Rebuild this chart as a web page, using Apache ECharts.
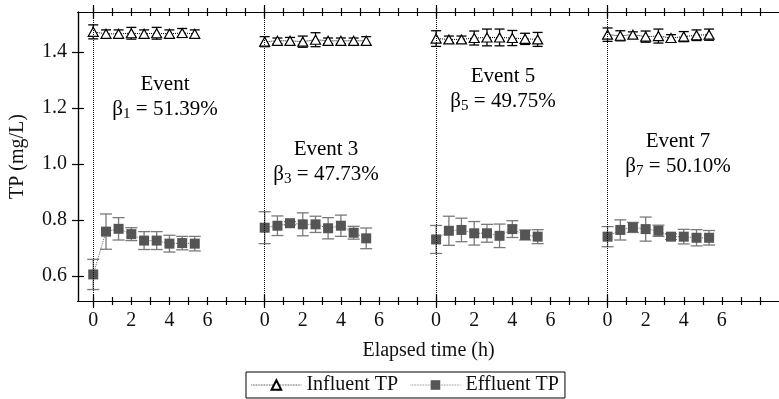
<!DOCTYPE html>
<html>
<head>
<meta charset="utf-8">
<script src="https://cdn.jsdelivr.net/npm/echarts@6/dist/echarts.min.js"></script>
<style>
  html, body { margin: 0; padding: 0; background: #fff; }
  #chart { width: 779px; height: 399px; }
</style>
</head>
<body>
<div id="chart"></div>
<script>
// sampling times within each event (h), every 40 min
var hours = [0, 0.67, 1.33, 2, 2.67, 3.33, 4, 4.67, 5.33];
// where each event starts on the shared axis
var eventStart = [0, 9, 18, 27];
var tickLabels = [0, 2, 4, 6];

// influent TP (mg/L) and error half-widths
var inf1 = [1.472, 1.465, 1.465, 1.467, 1.465, 1.467, 1.465, 1.468, 1.465];
var infErr1 = [0.025, 0.014, 0.014, 0.021, 0.014, 0.021, 0.014, 0.016, 0.014];
var inf3 = [1.437, 1.44, 1.44, 1.437, 1.444, 1.44, 1.44, 1.44, 1.44];
var infErr3 = [0.018, 0.01, 0.012, 0.02, 0.025, 0.01, 0.01, 0.01, 0.015];
var inf5 = [1.448, 1.445, 1.445, 1.45, 1.452, 1.452, 1.45, 1.447, 1.445];
var infErr5 = [0.028, 0.012, 0.012, 0.025, 0.03, 0.03, 0.027, 0.02, 0.025];
var inf7 = [1.462, 1.458, 1.462, 1.455, 1.457, 1.45, 1.455, 1.46, 1.462];
var infErr7 = [0.024, 0.018, 0.01, 0.02, 0.025, 0.012, 0.018, 0.019, 0.02];

// effluent TP (mg/L) and error half-widths
var eff1 = [0.605, 0.758, 0.768, 0.749, 0.726, 0.726, 0.715, 0.717, 0.715];
var effErr1 = [0.054, 0.063, 0.04, 0.023, 0.032, 0.032, 0.03, 0.024, 0.026];
var eff3 = [0.772, 0.779, 0.788, 0.784, 0.784, 0.770, 0.779, 0.754, 0.734];
var effErr3 = [0.057, 0.035, 0.006, 0.041, 0.029, 0.038, 0.038, 0.023, 0.037];
var eff5 = [0.73, 0.761, 0.764, 0.752, 0.752, 0.743, 0.767, 0.746, 0.740];
var effErr5 = [0.05, 0.052, 0.042, 0.042, 0.032, 0.042, 0.03, 0.018, 0.025];
var eff7 = [0.740, 0.764, 0.773, 0.767, 0.761, 0.740, 0.740, 0.736, 0.736];
var effErr7 = [0.036, 0.036, 0.018, 0.043, 0.02, 0.01, 0.026, 0.029, 0.026];

var yTicks = [0.6, 0.8, 1.0, 1.2, 1.4];

var influent = [inf1, inf3, inf5, inf7];
var influentErr = [infErr1, infErr3, infErr5, infErr7];
var effluent = [eff1, eff3, eff5, eff7];
var effluentErr = [effErr1, effErr3, effErr5, effErr7];

var FONT = 'Liberation Serif';
var myChart = echarts.init(document.getElementById('chart'));

var minorTicks = [], labelVals = [];
for (var i = 0; i < 36; i++) minorTicks.push(i);
eventStart.forEach(function (s) {
  tickLabels.forEach(function (t) { labelVals.push(s + t); });
});

function xAx(pos, inside, len, vals, showLabel) {
  return {
    type: 'value', min: -0.8, max: 36, position: pos,
    axisLine: { show: true, onZero: false, lineStyle: { color: '#000', width: 1.2 } },
    splitLine: { show: false },
    axisTick: { show: true, inside: inside, length: len, customValues: vals, lineStyle: { color: '#000', width: 1.2 } },
    axisLabel: showLabel ? {
      show: true, customValues: labelVals, margin: 10,
      fontFamily: FONT, fontSize: 20, color: '#111',
      formatter: function (v) { return String(Math.round(v) % 9); }
    } : { show: false }
  };
}

function yAx(inside) {
  return {
    type: 'value', min: 0.51, max: 1.543, position: 'left',
    axisLine: { show: true, onZero: false, lineStyle: { color: '#000', width: 1.2 } },
    splitLine: { show: false },
    axisTick: { show: true, inside: inside, length: 6, customValues: yTicks, lineStyle: { color: '#000', width: 1.2 } },
    axisLabel: inside ? { show: false } : {
      show: true, customValues: yTicks, margin: 11,
      fontFamily: FONT, fontSize: 20, color: '#111',
      formatter: function (v) { return v.toFixed(1); }
    },
    name: inside ? '' : 'TP (mg/L)',
    nameLocation: 'middle', nameGap: 50,
    nameTextStyle: { fontFamily: FONT, fontSize: 20, color: '#111' }
  };
}

var xAxes = [
  xAx('bottom', false, 4, minorTicks, true),
  xAx('bottom', true, 4, minorTicks, false),
  xAx('bottom', false, 7, eventStart, false),
  xAx('bottom', true, 7, eventStart, false),
  xAx('top', false, 4, minorTicks, false),
  xAx('top', true, 4, minorTicks, false),
  xAx('top', false, 7, eventStart, false),
  xAx('top', true, 7, eventStart, false)
];
xAxes[0].name = 'Elapsed time (h)';
xAxes[0].nameLocation = 'middle';
xAxes[0].nameGap = 40;
xAxes[0].nameTextStyle = { fontFamily: FONT, fontSize: 20, color: '#111' };

function errRender(capW, color) {
  return function (params, api) {
    var x = api.value(0);
    var top = api.coord([x, api.value(2)]);
    var bot = api.coord([x, api.value(1)]);
    var st = { stroke: color, lineWidth: 1.3 };
    return {
      type: 'group',
      children: [
        { type: 'line', shape: { x1: top[0], y1: top[1], x2: bot[0], y2: bot[1] }, style: st },
        { type: 'line', shape: { x1: top[0] - capW, y1: top[1], x2: top[0] + capW, y2: top[1] }, style: st },
        { type: 'line', shape: { x1: bot[0] - capW, y1: bot[1], x2: bot[0] + capW, y2: bot[1] }, style: st }
      ]
    };
  };
}

var series = [];
eventStart.forEach(function (s, k) {
  var inPts = [], inErr = [], effPts = [], effErrPts = [];
  hours.forEach(function (h, j) {
    inPts.push([s + h, influent[k][j]]);
    inErr.push([s + h, influent[k][j] - influentErr[k][j], influent[k][j] + influentErr[k][j]]);
    effPts.push([s + h, effluent[k][j]]);
    effErrPts.push([s + h, effluent[k][j] - effluentErr[k][j], effluent[k][j] + effluentErr[k][j]]);
  });
  series.push({
    type: 'custom', name: 'infErr', z: 1, data: inErr,
    encode: { x: 0, y: [1, 2] }, renderItem: errRender(5, '#000')
  });
  series.push({
    type: 'custom', name: 'effErr', z: 1, data: effErrPts,
    encode: { x: 0, y: [1, 2] }, renderItem: errRender(6, '#7a7a7a')
  });
  series.push({
    type: 'line', name: 'Influent TP', data: inPts, z: 3,
    symbol: 'triangle', symbolSize: [10, 9],
    itemStyle: { color: '#fff', borderColor: '#000', borderWidth: 1.2 },
    lineStyle: { color: '#000', width: 1, type: 'dotted' },
    markLine: k === 0 ? {
      silent: true, symbol: 'none', label: { show: false },
      lineStyle: { color: '#000', width: 1, type: 'dotted' },
      data: eventStart.map(function (v) { return { xAxis: v }; })
    } : undefined
  });
  series.push({
    type: 'line', name: 'Effluent TP', data: effPts, z: 3,
    symbol: 'rect', symbolSize: 10,
    itemStyle: { color: '#555', borderWidth: 0 },
    lineStyle: { color: '#666', width: 1, type: 'dotted' }
  });
});

function note(cx, cy, head, sub, val) {
  return {
    type: 'text', x: cx, y: cy, z: 10,
    style: {
      text: '{a|' + head + '}\n{a|β}{s|' + sub + '}{a| = ' + val + '}',
      align: 'center', verticalAlign: 'top',
      rich: {
        a: { fontFamily: FONT, fontSize: 21, color: '#111', lineHeight: 25, align: 'center' },
        s: { fontFamily: FONT, fontSize: 15, color: '#111', lineHeight: 25, padding: [9, 0, 0, 0] }
      }
    }
  };
}

var option = {
  animation: false,
  grid: { left: 77, right: -6, top: 12, bottom: 98, containLabel: false },
  xAxis: xAxes,
  yAxis: [yAx(false), yAx(true)],
  legend: {
    data: ['Influent TP', 'Effluent TP'],
    left: 246, top: 372,
    borderColor: '#000', borderWidth: 1, borderRadius: 0,
    padding: [3, 6, 3, 5], itemGap: 12, itemWidth: 50, itemHeight: 12,
    lineStyle: { width: 0.8 },
    textStyle: { fontFamily: FONT, fontSize: 20, color: '#111' }
  },
  graphic: [
    note(165, 72, 'Event', '1', '51.39%'),
    note(326, 137, 'Event 3', '3', '47.73%'),
    note(503, 64, 'Event 5', '5', '49.75%'),
    note(678, 129, 'Event 7', '7', '50.10%')
  ],
  series: series
};
myChart.setOption(option);
</script>
</body>
</html>
